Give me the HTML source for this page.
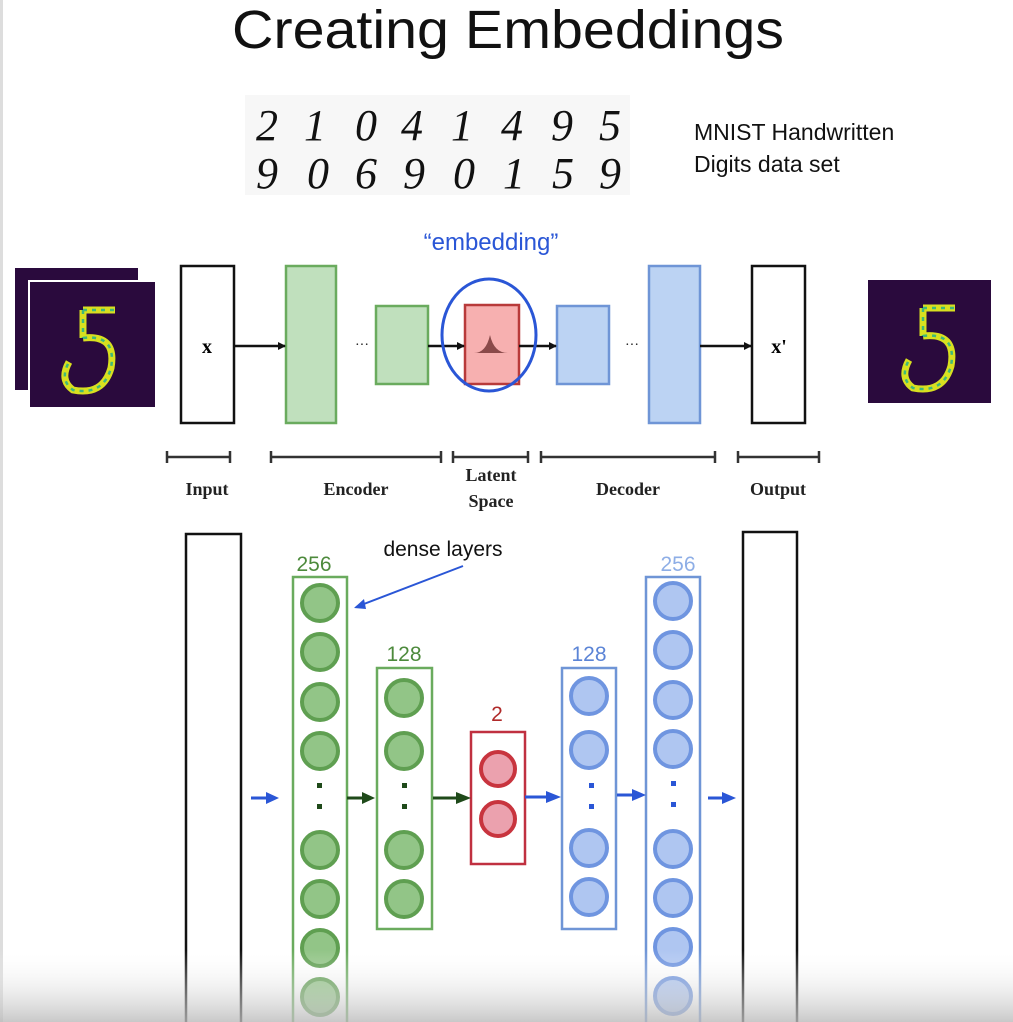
<!DOCTYPE html>
<html><head><style>
html,body{margin:0;padding:0;background:#fff;}
svg{display:block;}
</style></head><body>
<svg width="1013" height="1022" viewBox="0 0 1013 1022" xmlns="http://www.w3.org/2000/svg">
<defs>
<linearGradient id="sh" x1="0" y1="0" x2="0" y2="1"><stop offset="0" stop-color="#fff" stop-opacity="0"/><stop offset="1" stop-color="#bbb" stop-opacity="0.8"/></linearGradient>
<marker id="ak" markerWidth="8" markerHeight="8" refX="7" refY="4" orient="auto" markerUnits="userSpaceOnUse"><path d="M0,0 L8,4 L0,8 Z" fill="#111"/></marker>
<g id="five">
<path d="M28,10 L28,38 M28,10 L60,10 M28,38 Q62,34 56,68 Q48,96 18,90 Q4,80 14,62" fill="none" stroke="#d8e020" stroke-width="7"/>
<path d="M28,10 L28,38 M28,10 L60,10 M28,38 Q62,34 56,68 Q48,96 18,90 Q4,80 14,62" fill="none" stroke="#3fb87a" stroke-width="2.5" stroke-dasharray="4 5"/>
</g>
</defs>
<rect width="1013" height="1022" fill="#fff"/>
<rect x="0" y="0" width="3" height="1022" fill="#ddd"/>
<text x="508" y="48" text-anchor="middle" font-family="Liberation Sans, sans-serif" font-size="54" fill="#111" textLength="552" lengthAdjust="spacingAndGlyphs">Creating Embeddings</text>
<!-- digits -->
<rect x="245" y="95" width="385" height="100" fill="#f7f7f7"/>
<g font-family="Liberation Serif, serif" font-style="italic" font-size="44" fill="#111" text-anchor="middle">
<text x="267" y="140">2</text><text x="315" y="140">1</text><text x="366" y="140">0</text><text x="412" y="140">4</text><text x="462" y="140">1</text><text x="512" y="140">4</text><text x="562" y="140">9</text><text x="610" y="140">5</text>
<text x="267" y="188">9</text><text x="318" y="188">0</text><text x="366" y="188">6</text><text x="414" y="188">9</text><text x="464" y="188">0</text><text x="514" y="188">1</text><text x="563" y="188">5</text><text x="610" y="188">9</text>
</g>
<text x="694" y="140" font-family="Liberation Sans, sans-serif" font-size="23" fill="#111">MNIST Handwritten</text>
<text x="694" y="172" font-family="Liberation Sans, sans-serif" font-size="23" fill="#111">Digits data set</text>
<text x="491" y="250" text-anchor="middle" font-family="Liberation Sans, sans-serif" font-size="24" fill="#2a56d6">“embedding”</text>
<!-- mnist images -->
<rect x="15" y="268" width="123" height="122" fill="#2a0a3d"/>
<rect x="28" y="280" width="129" height="129" fill="#fff"/>
<rect x="30" y="282" width="125" height="125" fill="#2a0a3d"/>
<g transform="translate(55,300)"><use href="#five"/></g>
<rect x="868" y="280" width="123" height="123" fill="#2a0a3d"/>
<g transform="translate(895,298)"><use href="#five"/></g>
<!-- top diagram -->
<g stroke-width="2.5">
<rect x="181" y="266" width="53" height="157" fill="#fff" stroke="#111"/>
<rect x="286" y="266" width="50" height="157" fill="#c0e0bd" stroke="#6aab5e"/>
<rect x="376" y="306" width="52" height="78" fill="#c0e0bd" stroke="#6aab5e"/>
<rect x="465" y="305" width="54" height="79" fill="#f7b0b0" stroke="#b83a3a"/>
<rect x="557" y="306" width="52" height="78" fill="#bcd3f3" stroke="#6f95d6"/>
<rect x="649" y="266" width="51" height="157" fill="#bcd3f3" stroke="#6f95d6"/>
<rect x="752" y="266" width="53" height="157" fill="#fff" stroke="#111"/>
</g>
<path d="M474,353 Q486,353 490,335 Q494,353 508,353 Z" fill="#8a4a4a"/>
<g stroke="#111" stroke-width="2.5" marker-end="url(#ak)">
<line x1="234" y1="346" x2="285" y2="346"/>
<line x1="428" y1="346" x2="464" y2="346"/>
<line x1="519" y1="346" x2="556" y2="346"/>
<line x1="700" y1="346" x2="751" y2="346"/>
</g>
<text x="355" y="349" font-size="14" font-family="Liberation Serif, serif" fill="#111">···</text>
<text x="625" y="349" font-size="14" font-family="Liberation Serif, serif" fill="#111">···</text>
<ellipse cx="489" cy="335" rx="47" ry="56" fill="none" stroke="#2a56d6" stroke-width="3"/>
<text x="207" y="353" text-anchor="middle" font-family="Liberation Serif, serif" font-weight="bold" font-size="20">x</text>
<text x="779" y="353" text-anchor="middle" font-family="Liberation Serif, serif" font-weight="bold" font-size="20">x'</text>
<g stroke="#333" stroke-width="2.5" fill="none">
<path d="M167,457 H230 M167,451 V463 M230,451 V463"/>
<path d="M271,457 H441 M271,451 V463 M441,451 V463"/>
<path d="M453,457 H528 M453,451 V463 M528,451 V463"/>
<path d="M541,457 H715 M541,451 V463 M715,451 V463"/>
<path d="M738,457 H819 M738,451 V463 M819,451 V463"/>
</g>
<g font-family="Liberation Serif, serif" font-weight="bold" font-size="18" fill="#222" text-anchor="middle">
<text x="207" y="495">Input</text>
<text x="356" y="495">Encoder</text>
<text x="491" y="481">Latent</text>
<text x="491" y="507">Space</text>
<text x="628" y="495">Decoder</text>
<text x="778" y="495">Output</text>
</g>
<!-- bottom -->
<rect x="186" y="534" width="55" height="500" fill="none" stroke="#111" stroke-width="2.5"/>
<rect x="743" y="532" width="54" height="500" fill="none" stroke="#111" stroke-width="2.5"/>
<text x="443" y="556" text-anchor="middle" font-family="Liberation Sans, sans-serif" font-size="21" fill="#111">dense layers</text>
<line x1="463" y1="566" x2="356" y2="607" stroke="#2a56d6" stroke-width="2"/>
<path d="M354,608 L364,599 L366,609 Z" fill="#2a56d6"/>
<g font-family="Liberation Sans, sans-serif" font-size="21" text-anchor="middle">
<text x="314" y="571" fill="#4d8a3c">256</text>
<text x="404" y="661" fill="#4d8a3c">128</text>
<text x="497" y="721" fill="#b02a2a">2</text>
<text x="589" y="661" fill="#5b84d6">128</text>
<text x="678" y="571" fill="#8eaee6">256</text>
</g>
<g fill="none" stroke-width="2.5">
<rect x="293" y="577" width="54" height="460" stroke="#6aab5e"/>
<rect x="377" y="668" width="55" height="261" stroke="#6aab5e"/>
<rect x="471" y="732" width="54" height="132" stroke="#c03040"/>
<rect x="562" y="668" width="54" height="261" stroke="#6f95d6"/>
<rect x="646" y="577" width="54" height="460" stroke="#6f95d6"/>
</g>
<g fill="#92c587" stroke="#5f9f51" stroke-width="4">
<circle cx="320" cy="603" r="18"/><circle cx="320" cy="652" r="18"/><circle cx="320" cy="702" r="18"/><circle cx="320" cy="751" r="18"/>
<circle cx="320" cy="850" r="18"/><circle cx="320" cy="899" r="18"/><circle cx="320" cy="948" r="18"/><circle cx="320" cy="997" r="18"/>
<circle cx="404" cy="698" r="18"/><circle cx="404" cy="751" r="18"/><circle cx="404" cy="850" r="18"/><circle cx="404" cy="899" r="18"/>
</g>
<g fill="#eba1ae" stroke="#c8343e" stroke-width="4">
<circle cx="498" cy="769" r="17"/><circle cx="498" cy="819" r="17"/>
</g>
<g fill="#afc6f1" stroke="#6f95e0" stroke-width="4">
<circle cx="589" cy="696" r="18"/><circle cx="589" cy="750" r="18"/><circle cx="589" cy="848" r="18"/><circle cx="589" cy="897" r="18"/>
<circle cx="673" cy="601" r="18"/><circle cx="673" cy="650" r="18"/><circle cx="673" cy="700" r="18"/><circle cx="673" cy="749" r="18"/>
<circle cx="673" cy="849" r="18"/><circle cx="673" cy="898" r="18"/><circle cx="673" cy="947" r="18"/><circle cx="673" cy="996" r="18"/>
</g>
<g>
<rect x="317" y="783" width="5" height="5" fill="#1f4a1a"/><rect x="317" y="804" width="5" height="5" fill="#1f4a1a"/>
<rect x="402" y="783" width="5" height="5" fill="#1f4a1a"/><rect x="402" y="804" width="5" height="5" fill="#1f4a1a"/>
<rect x="589" y="783" width="5" height="5" fill="#2a56d6"/><rect x="589" y="804" width="5" height="5" fill="#2a56d6"/>
<rect x="671" y="781" width="5" height="5" fill="#2a56d6"/><rect x="671" y="802" width="5" height="5" fill="#2a56d6"/>
</g>
<g stroke-width="3">
<line x1="251" y1="798" x2="268" y2="798" stroke="#2a56d6"/><path d="M266,792 L279,798 L266,804Z" fill="#2a56d6"/>
<line x1="347" y1="798" x2="364" y2="798" stroke="#1f4a1a"/><path d="M362,792 L375,798 L362,804Z" fill="#1f4a1a"/>
<line x1="433" y1="798" x2="458" y2="798" stroke="#1f4a1a"/><path d="M456,792 L471,798 L456,804Z" fill="#1f4a1a"/>
<line x1="525" y1="797" x2="548" y2="797" stroke="#2a56d6"/><path d="M546,791 L561,797 L546,803Z" fill="#2a56d6"/>
<line x1="617" y1="795" x2="634" y2="795" stroke="#2a56d6"/><path d="M632,789 L646,795 L632,801Z" fill="#2a56d6"/>
<line x1="708" y1="798" x2="724" y2="798" stroke="#2a56d6"/><path d="M722,792 L736,798 L722,804Z" fill="#2a56d6"/>
</g>
<rect x="0" y="950" width="1013" height="72" fill="url(#sh)"/>
</svg>
</body></html>
